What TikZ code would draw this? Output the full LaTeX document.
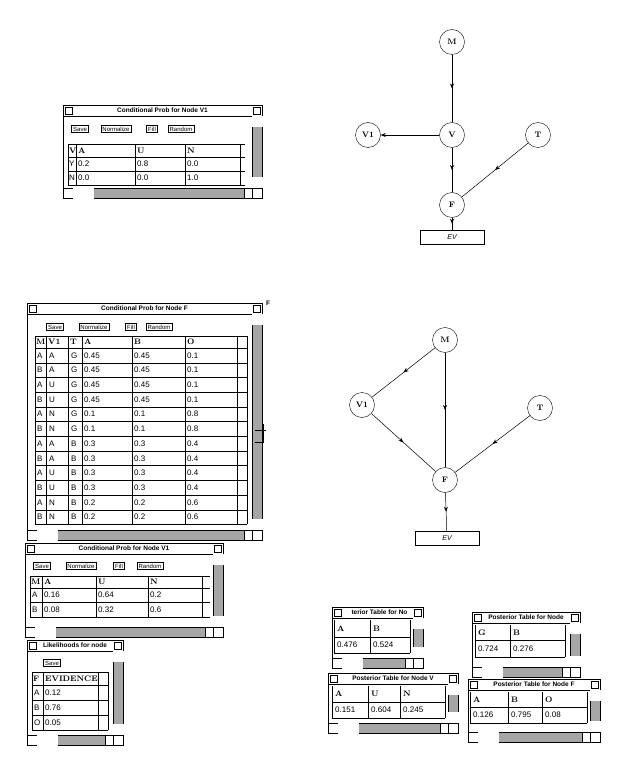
\documentclass[tikz,border=0pt]{standalone}
\usepackage{fontspec}
\newfontfamily\uif{Liberation Sans}
\usetikzlibrary{decorations.markings,arrows.meta}
\tikzset{
 gnode/.style={draw,circle,minimum size=25pt,inner sep=0pt,font=\bfseries\footnotesize},
 evbox/.style={draw,minimum width=64pt,minimum height=14pt,inner sep=0pt,font=\uif\itshape\scriptsize},
 midarr/.style={postaction={decorate},decoration={markings,mark=at position 0.5 with {\arrow{Stealth[length=5pt,width=4pt]}}}},
 edge/.style={line width=0.5pt},
 cell/.style={anchor=west,inner sep=1pt,font=\uif\fontsize{8}{9}\selectfont},
 hcell/.style={anchor=west,inner sep=1pt,font=\bfseries\fontsize{8}{9}\selectfont},
 ttl/.style={inner sep=0pt,font=\uif\bfseries\fontsize{6.5}{7}\selectfont},
 btn/.style={draw,line width=0.6pt,inner sep=1.5pt,font=\uif\fontsize{6}{7}\selectfont},
 frame/.style={draw,line width=0.8pt},
}
% window: x1 y1 x2 y2 title
\newcommand{\mywin}[5]{%
 \draw[frame,fill=white] (#1,#2) rectangle (#3,#4);
 \draw[line width=0.6pt] (#1,#2+11) -- (#3,#2+11);
 \draw[line width=0.6pt] (#1+2,#2+2) rectangle (#1+9,#2+9);
 \draw[line width=0.6pt] (#3-9,#2+2) rectangle (#3-2,#2+9);
 \node[ttl] at ({(#1+#3)/2},#2+5.5) {#5};
 \fill[gray!70] (#3-10,#2+11) rectangle (#3,#4-11);
 \draw[line width=0.6pt] (#3-10,#2+11) -- (#3-10,#4-11);
 \fill[white,draw] (#3-10,#2+11) rectangle (#3,#2+21);
 \fill[white,draw] (#3-10,#4-21) rectangle (#3,#4-11);
 \fill[gray!70] (#1+22,#4-10) rectangle (#3-18,#4);
 \draw[line width=0.6pt] (#1,#4-10) -- (#3,#4-10);
 \fill[white,draw] (#1+10,#4-10) rectangle (#1+20,#4);
 \fill[white,draw] (#1+20,#4-10) rectangle (#1+30,#4);
 \draw[line width=0.6pt] (#3-18,#4-10) rectangle (#3-10,#4);
}
\begin{document}
\begin{tikzpicture}[x=1pt,y=-1pt]
\useasboundingbox (0,0) rectangle (640,775);
\fill[white] (0,0) rectangle (640,775);

% ===== top graph =====
\node[gnode] (m1) at (452,42) {M};
\node[gnode] (v1a) at (368,135) {V1};
\node[gnode] (va) at (452,135) {V};
\node[gnode] (ta) at (538,135) {T};
\node[gnode] (fa) at (452,205) {F};
\node[evbox] (eva) at (452,237) {EV};
\draw[edge,midarr] (m1) -- (va);
\draw[edge,-{Stealth[length=5pt,width=4pt]}] (va) -- (v1a);
\draw[edge,midarr] (va) -- (fa);
\draw[edge,midarr] (ta) -- (fa);
\draw[edge,midarr] (fa) -- (eva);

% ===== bottom graph =====
\node[gnode] (m2) at (445,340) {M};
\node[gnode] (v1b) at (362,405) {V1};
\node[gnode] (tb) at (540,408) {T};
\node[gnode] (fb) at (445,480) {F};
\node[evbox] (evb) at (447,538) {EV};
\draw[edge,midarr] (m2) -- (v1b);
\draw[edge,midarr] (m2) -- (fb);
\draw[edge,midarr] (v1b) -- (fb);
\draw[edge,midarr] (tb) -- (fb);
\draw[edge,midarr] (fb) -- (evb);

% ===== window: V1 given V (top-left) =====
\mywin{63}{105}{262}{198}{Conditional Prob for Node V1}
\node[btn] at (80,129) {Save};
\node[btn] at (116,129) {Normalize};
\node[btn] at (152,129) {Fill};
\node[btn] at (181,129) {Random};
\draw (68,144) -- (245,144);
\foreach \y in {157,171,185} \draw (68,\y) -- (245,\y);
\foreach \x in {68,76,135,185,240} \draw (\x,144) -- (\x,185);
\node[hcell] at (68,151) {V}; \node[hcell] at (77,151) {A}; \node[hcell] at (136,151) {U}; \node[hcell] at (186,151) {N};
\node[cell] at (68,164) {Y}; \node[cell] at (77,164) {0.2}; \node[cell] at (136,164) {0.8}; \node[cell] at (186,164) {0.0};
\node[cell] at (68,178) {N}; \node[cell] at (77,178) {0.0}; \node[cell] at (136,178) {0.0}; \node[cell] at (186,178) {1.0};

% ===== window: F table =====
\mywin{27}{303}{262}{540}{Conditional Prob for Node F}
\node[ttl] at (268,303) {F};
\node[btn] at (55,327) {Save};
\node[btn] at (94,327) {Normalize};
\node[btn] at (131,327) {Fill};
\node[btn] at (159,327) {Random};
\draw (35,336) -- (247,336);
\foreach \i in {0,...,12} \draw (35,{348+\i*14.7}) -- (247,{348+\i*14.7});
\foreach \x in {35,46,68,82,132,185,237,247} \draw (\x,336) -- (\x,524.4);
\node[hcell] at (35,342) {M}; \node[hcell] at (47,342) {V1}; \node[hcell] at (69,342) {T};
\node[hcell] at (83,342) {A}; \node[hcell] at (133,342) {B}; \node[hcell] at (186,342) {O};
\foreach \m/\v/\t/\a/\b/\o [count=\i from 0] in {A/A/G/0.45/0.45/0.1,B/A/G/0.45/0.45/0.1,A/U/G/0.45/0.45/0.1,B/U/G/0.45/0.45/0.1,A/N/G/0.1/0.1/0.8,B/N/G/0.1/0.1/0.8,A/A/B/0.3/0.3/0.4,B/A/B/0.3/0.3/0.4,A/U/B/0.3/0.3/0.4,B/U/B/0.3/0.3/0.4,A/N/B/0.2/0.2/0.6,B/N/B/0.2/0.2/0.6}{
 \pgfmathsetmacro\yy{355.4+\i*14.7}
 \node[cell] at (36,\yy) {\m}; \node[cell] at (48,\yy) {\v}; \node[cell] at (70,\yy) {\t};
 \node[cell] at (83,\yy) {\a}; \node[cell] at (133,\yy) {\b}; \node[cell] at (186,\yy) {\o};
}
\draw[line width=0.6pt] (255,430) -- (266,430);
\draw[line width=0.6pt] (263,424) -- (263,442);
\draw[line width=0.6pt] (255,442) -- (264,442);

% ===== window: V1 given M =====
\mywin{25}{543}{223}{637}{Conditional Prob for Node V1}
\node[btn] at (42,566) {Save};
\node[btn] at (81,566) {Normalize};
\node[btn] at (119,566) {Fill};
\node[btn] at (150,566) {Random};
\draw (30,576) -- (210,576);
\foreach \y in {588,602,617} \draw (30,\y) -- (210,\y);
\foreach \x in {30,42,96,148,202} \draw (\x,576) -- (\x,617);
\node[hcell] at (30,582) {M}; \node[hcell] at (43,582) {A}; \node[hcell] at (97,582) {U}; \node[hcell] at (149,582) {N};
\node[cell] at (31,595) {A}; \node[cell] at (43,595) {0.16}; \node[cell] at (97,595) {0.64}; \node[cell] at (149,595) {0.2};
\node[cell] at (31,609.5) {B}; \node[cell] at (43,609.5) {0.08}; \node[cell] at (97,609.5) {0.32}; \node[cell] at (149,609.5) {0.6};

% ===== window: likelihoods =====
\mywin{27}{640}{123}{745}{Likelihoods for node}
\node[btn] at (52,663) {Save};
\draw (32,672) -- (108,672);
\foreach \y in {685,700,715,730} \draw (32,\y) -- (108,\y);
\foreach \x in {32,43,98,108} \draw (\x,672) -- (\x,730);
\node[hcell] at (32,679) {F}; \node[hcell] at (44,679) {EVIDENCE};
\node[cell] at (33,692.5) {A}; \node[cell] at (44,692.5) {0.12};
\node[cell] at (33,707.5) {B}; \node[cell] at (44,707.5) {0.76};
\node[cell] at (33,722.5) {O}; \node[cell] at (44,722.5) {0.05};

% ===== posterior windows =====
\mywin{332}{607}{423}{668}{\hspace*{4pt}terior Table for No}
\draw (334,637) -- (410,637); \draw (334,653) -- (410,653);
\foreach \x in {334,370,410} \draw (\x,620) -- (\x,653);
\node[hcell] at (336,629) {A}; \node[hcell] at (372,629) {B};
\node[cell] at (336,645) {0.476}; \node[cell] at (372,645) {0.524};

\mywin{328}{673}{458}{733}{Posterior Table for Node V}
\draw (332,702) -- (445,702); \draw (332,718) -- (445,718);
\foreach \x in {332,368,400,445} \draw (\x,686) -- (\x,718);
\node[hcell] at (334,694) {A}; \node[hcell] at (370,694) {U}; \node[hcell] at (402,694) {N};
\node[cell] at (334,710) {0.151}; \node[cell] at (370,710) {0.604}; \node[cell] at (402,710) {0.245};

\mywin{472}{612}{580}{677}{Posterior Table for Node}
\draw (475,640) -- (565,640); \draw (475,657) -- (565,657);
\foreach \x in {475,510,565} \draw (\x,625) -- (\x,657);
\node[hcell] at (477,633) {G}; \node[hcell] at (512,633) {B};
\node[cell] at (477,649) {0.724}; \node[cell] at (512,649) {0.276};

\mywin{468}{679}{600}{742}{Posterior Table for Node F}
\draw (470,707) -- (587,707); \draw (470,723) -- (587,723);
\foreach \x in {470,508,542,587} \draw (\x,692) -- (\x,723);
\node[hcell] at (472,700) {A}; \node[hcell] at (510,700) {B}; \node[hcell] at (544,700) {O};
\node[cell] at (472,715) {0.126}; \node[cell] at (510,715) {0.795}; \node[cell] at (544,715) {0.08};
\end{tikzpicture}
\end{document}
